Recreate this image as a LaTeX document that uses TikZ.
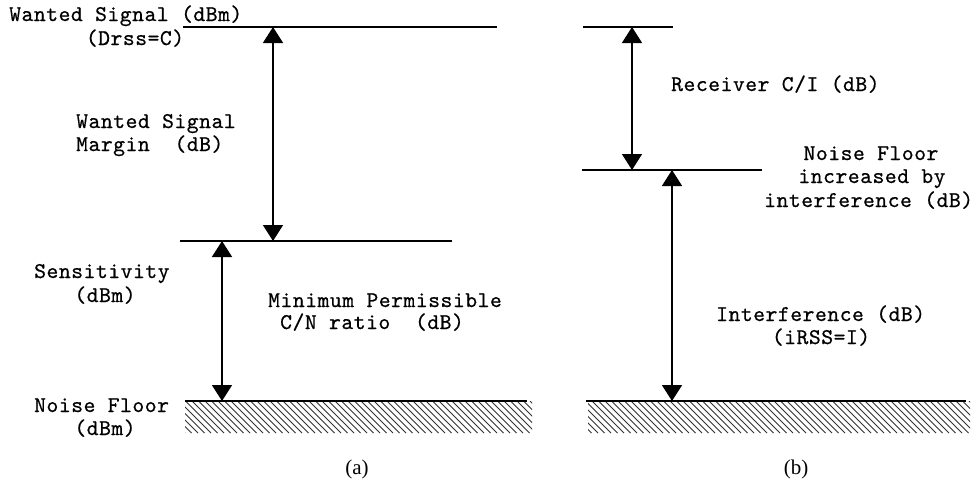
\documentclass[tikz,border=0pt]{standalone}
\usepackage{fontspec}
\setmainfont{Liberation Serif}
\newfontfamily\monofam[LetterSpace=2.4,FakeBold=0.6]{lmmono10-regular.otf}
\usetikzlibrary{arrows.meta}
\tikzset{
  lbl/.style={inner sep=0pt, font=\monofam\fontsize{22.5}{23}\selectfont},
  panelcap/.style={inner sep=0pt, font=\fontsize{21}{24}\selectfont},
  level/.style={line width=2.2pt},
  gap/.style={line width=1.6pt, {Triangle[width=20pt,length=16pt]}-{Triangle[width=20pt,length=16pt]}},
  hatchline/.style={line width=0.9pt, black!80},
}
\begin{document}
\begin{tikzpicture}[x=1pt,y=-1pt]
\useasboundingbox (0,0) rectangle (976,482);
\fill[white] (0,0) rectangle (976,482);

% ---------- panel (a) ----------
\coordinate (aTopL) at (183,27);   \coordinate (aTopR) at (497,27);
\coordinate (aMidL) at (180,241);  \coordinate (aMidR) at (452,241);
\coordinate (aBotL) at (185,401);  \coordinate (aBotR) at (527,401);
\draw[level] (aTopL) -- (aTopR);
\draw[level] (aMidL) -- (aMidR);
\begin{scope}
  \clip (185,401) rectangle (532,433);
  \foreach \x in {140,146.5,...,540} {\draw[hatchline] (\x,401) -- (\x+32,433);}
\end{scope}
\draw[level] (aBotL) -- (aBotR);
\coordinate (aA1t) at (273,27);  \coordinate (aA1b) at (273,241);
\coordinate (aA2t) at (222,241); \coordinate (aA2b) at (222,401);
\draw[gap] (aA1b) -- (aA1t);
\draw[gap] (aA2b) -- (aA2t);

\node[lbl,anchor=base west] (ws1) at (9,21) {Wanted Signal (dBm)};
\node[lbl,anchor=base] (ws2) at (135,45) {(Drss=C)};
\node[lbl,anchor=base west] (wm1) at (76,128) {Wanted Signal};
\node[lbl,anchor=base west] (wm2) at (76,151) {Margin\ \ (dB)};
\node[lbl,anchor=base west] (se1) at (34,278) {Sensitivity};
\node[lbl,anchor=base] (se2) at (105,302) {(dBm)};
\node[lbl,anchor=base west] (mp1) at (268,307) {Minimum Permissible};
\node[lbl,anchor=base west] (mp2) at (280,329) {C/N ratio\ \ (dB)};
\node[lbl,anchor=base west] (nf1) at (34,412) {Noise Floor};
\node[lbl,anchor=base] (nf2) at (105,435) {(dBm)};
\node[panelcap,anchor=base] (capa) at (357,474) {(a)};

% ---------- panel (b) ----------
\coordinate (bTopL) at (583,27);   \coordinate (bTopR) at (673,27);
\coordinate (bMidL) at (582,170);  \coordinate (bMidR) at (762,170);
\coordinate (bBotL) at (586,401);  \coordinate (bBotR) at (966,401);
\draw[level] (bTopL) -- (bTopR);
\draw[level] (bMidL) -- (bMidR);
\begin{scope}
  \clip (588,401) rectangle (970,433);
  \foreach \x in {540,546.5,...,975} {\draw[hatchline] (\x,401) -- (\x+32,433);}
\end{scope}
\draw[level] (bBotL) -- (bBotR);
\coordinate (bA1t) at (632,27);  \coordinate (bA1b) at (632,170);
\coordinate (bA2t) at (672,170); \coordinate (bA2b) at (672,401);
\draw[gap] (bA1b) -- (bA1t);
\draw[gap] (bA2b) -- (bA2t);

\node[lbl,anchor=base west] (rc) at (671,91) {Receiver C/I (dB)};
\node[lbl,anchor=base] (ni1) at (871,160) {Noise Floor};
\node[lbl,anchor=base] (ni2) at (872,183) {increased by};
\node[lbl,anchor=base west] (ni3) at (764,207) {interference (dB)};
\node[lbl,anchor=base west] (if1) at (716,321) {Interference (dB)};
\node[lbl,anchor=base] (if2) at (821,344) {(iRSS=I)};
\node[panelcap,anchor=base] (capb) at (796,474) {(b)};
\end{tikzpicture}
\end{document}
